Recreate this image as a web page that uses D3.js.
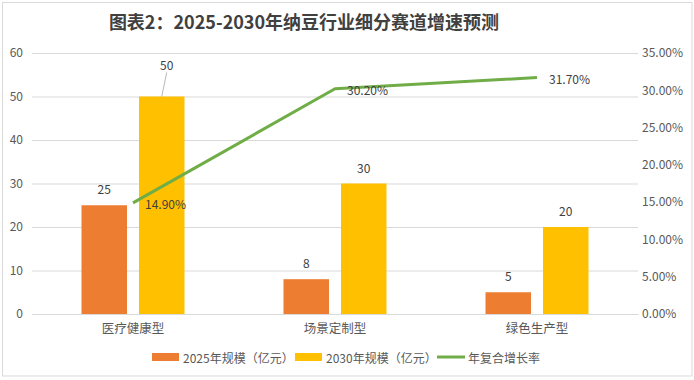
<!DOCTYPE html>
<html>
<head>
<meta charset="utf-8">
<script src="https://cdn.jsdelivr.net/npm/d3@7"></script>
<style>
html,body{margin:0;padding:0;background:#fff;}
svg{display:block;font-family:"Noto Sans CJK SC","Noto Sans",sans-serif;}
</style>
</head>
<body>
<svg id="chart" width="694" height="380"></svg>
<script>
const categories = ["医疗健康型", "场景定制型", "绿色生产型"];
const seriesNames = ["2025年规模（亿元）", "2030年规模（亿元）"];
const values2025 = [25, 8, 5];
const values2030 = [50, 30, 20];
const cagr = [0.149, 0.302, 0.317];
const cagrName = "年复合增长率";
const leftTicks = [0, 10, 20, 30, 40, 50, 60];
const rightTicks = [0, 0.05, 0.10, 0.15, 0.20, 0.25, 0.30, 0.35];
const title = "图表2：2025-2030年纳豆行业细分赛道增速预测";

const colors = ["#ED7D31", "#FFC000"];
const lineColor = "#70AD47";
const textColor = "#595959";
const gridColor = "#D9D9D9";

const svg = d3.select("#chart");
const W = 694, H = 380;
const plot = {left: 32, right: 638, top: 53, bottom: 314};

// border
svg.append("rect").attr("x", 2.5).attr("y", 2.5).attr("width", 689.5).attr("height", 373.5)
  .attr("fill", "#fff").attr("stroke", gridColor).attr("stroke-width", 1);

// title
svg.append("text").attr("x", 304).attr("y", 29).attr("text-anchor", "middle")
  .attr("font-size", 18).attr("font-weight", "bold").attr("fill", "#404040").text(title);

const x0 = d3.scaleBand().domain(categories).range([plot.left, plot.right]).padding(0);
const x1 = d3.scaleBand().domain([0, 1]).range([0, x0.bandwidth()]).paddingInner(0.2087).paddingOuter(0.861);
const yL = d3.scaleLinear().domain([0, 60]).range([plot.bottom, plot.top]);
const yR = d3.scaleLinear().domain([0, 0.35]).range([plot.bottom, plot.top]);

// gridlines
const gl = d3.axisLeft(yL).tickValues(leftTicks).tickSize(-(plot.right - plot.left)).tickFormat("");
const gridG = svg.append("g").attr("transform", `translate(${plot.left},0)`).call(gl);
gridG.select(".domain").remove();
gridG.selectAll("line").attr("stroke", gridColor).attr("stroke-width", 1);

// left axis labels
const la = svg.append("g").attr("transform", `translate(${plot.left - 9},0)`)
  .call(d3.axisLeft(yL).tickValues(leftTicks).tickSize(0).tickPadding(0).tickFormat(d3.format("d")));
la.select(".domain").remove();
la.selectAll("text").attr("fill", textColor).attr("font-size", 12).attr("font-family", "'Noto Sans CJK SC',sans-serif");

// right axis labels
const ra = svg.append("g").attr("transform", `translate(${plot.right + 4},0)`)
  .call(d3.axisRight(yR).tickValues(rightTicks).tickSize(0).tickPadding(0).tickFormat(d3.format(".2%")));
ra.select(".domain").remove();
ra.selectAll("text").attr("fill", textColor).attr("font-size", 12).attr("font-family", "'Noto Sans CJK SC',sans-serif");

// category axis
const xa = svg.append("g").attr("transform", `translate(0,${plot.bottom})`)
  .call(d3.axisBottom(x0).tickSize(0).tickPadding(10));
xa.select(".domain").attr("stroke", gridColor);
xa.selectAll("text").attr("fill", textColor).attr("font-size", 12.5).attr("font-family", "'Noto Sans CJK SC',sans-serif");

// bars
const seriesVals = [values2025, values2030];
seriesVals.forEach((vals, si) => {
  const g = svg.append("g");
  g.selectAll("rect").data(vals).enter().append("rect")
    .attr("x", (d, i) => x0(categories[i]) + x1(si))
    .attr("y", d => yL(d))
    .attr("width", x1.bandwidth())
    .attr("height", d => yL(0) - yL(d))
    .attr("fill", colors[si]);
  g.selectAll("text").data(vals).enter().append("text")
    .attr("x", (d, i) => x0(categories[i]) + x1(si) + x1.bandwidth() / 2 + ((si === 1 && i === 0) ? 5 : 0))
    .attr("y", (d, i) => yL(d) - ((si === 1 && i === 0) ? 27 : 11))
    .attr("text-anchor", "middle").attr("font-size", 12).attr("fill", "#404040")
    .text(d => d);
});
// leader line for the moved "50" label
{
  const bx = x0(categories[0]) + x1(1) + x1.bandwidth() / 2;
  const by = yL(values2030[0]);
  svg.append("line").attr("x1", bx + 5).attr("y1", by - 24).attr("x2", bx).attr("y2", by)
    .attr("stroke", "#A6A6A6").attr("stroke-width", 0.8);
}

// line
const cx = c => x0(c) + x0.bandwidth() / 2;
const lineGen = d3.line().x((d, i) => cx(categories[i])).y(d => yR(d));
svg.append("path").datum(cagr).attr("d", lineGen).attr("fill", "none")
  .attr("stroke", lineColor).attr("stroke-width", 3).attr("stroke-linejoin", "round");
svg.append("g").selectAll("text").data(cagr).enter().append("text")
  .attr("x", (d, i) => cx(categories[i]) + 12)
  .attr("y", d => yR(d) + 1)
  .attr("dominant-baseline", "central")
  .attr("font-size", 12).attr("fill", "#404040")
  .text(d => d3.format(".2%")(d));

// legend
const ly = 357;
const lg = svg.append("g").attr("font-size", 12).attr("fill", textColor);
lg.append("rect").attr("x", 152).attr("y", ly - 4).attr("width", 27).attr("height", 8).attr("fill", colors[0]);
lg.append("text").attr("x", 183).attr("y", ly).attr("dominant-baseline", "central").attr("fill", textColor).text(seriesNames[0]);
lg.append("rect").attr("x", 295).attr("y", ly - 4).attr("width", 27).attr("height", 8).attr("fill", colors[1]);
lg.append("text").attr("x", 326).attr("y", ly).attr("dominant-baseline", "central").attr("fill", textColor).text(seriesNames[1]);
lg.append("line").attr("x1", 437).attr("x2", 465).attr("y1", ly).attr("y2", ly).attr("stroke", lineColor).attr("stroke-width", 3);
lg.append("text").attr("x", 468).attr("y", ly).attr("dominant-baseline", "central").attr("fill", textColor).text(cagrName);
</script>
</body>
</html>
